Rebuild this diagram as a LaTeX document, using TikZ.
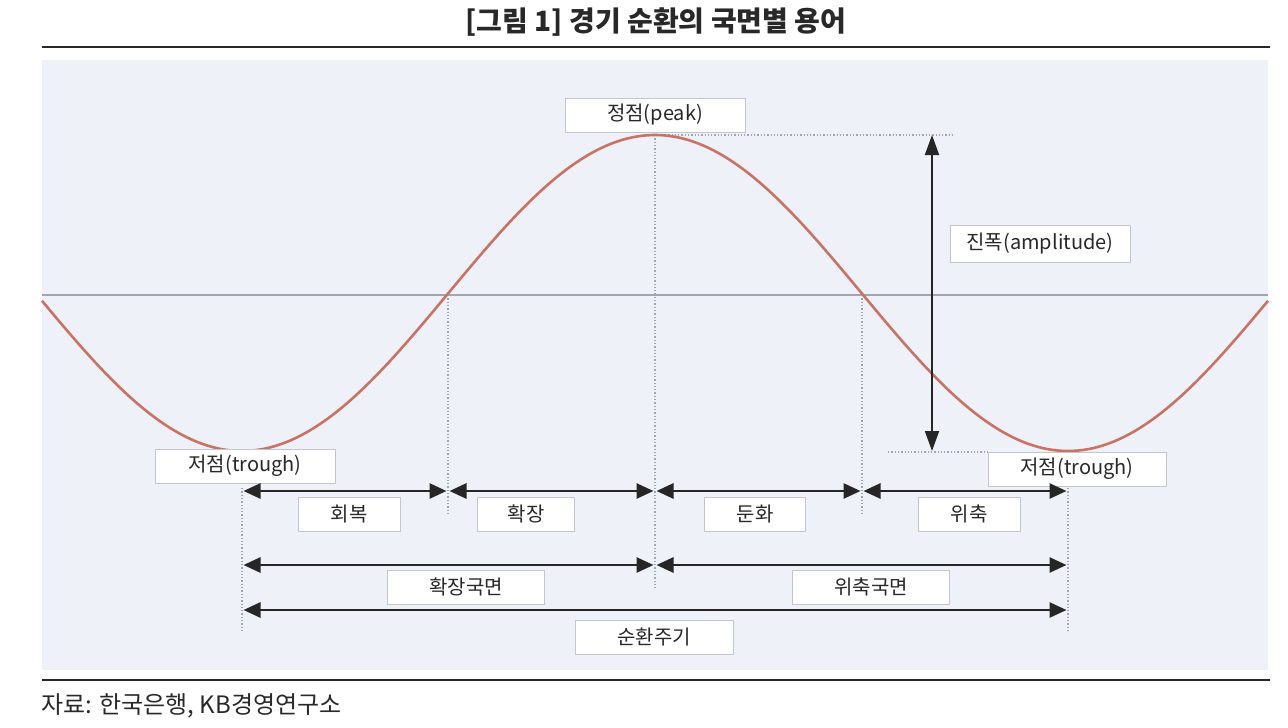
\documentclass[tikz,border=0pt]{standalone}
\usepackage{fontspec}
\setmainfont{Noto Sans CJK KR}
\usetikzlibrary{arrows.meta}
\usetikzlibrary{calc}
\definecolor{panel}{RGB}{238,241,248}
\definecolor{wavered}{RGB}{200,115,100}
\definecolor{boxgray}{RGB}{195,198,204}
\definecolor{axisgray}{RGB}{160,165,176}
\definecolor{ink}{RGB}{40,40,40}

\begin{document}
\begin{tikzpicture}[x=1pt, y=-1pt, >={Triangle[length=17pt,width=15pt]},
  box/.style={draw=boxgray, fill=white, line width=1pt, inner sep=0pt, minimum height=34pt, text=ink, font=\fontsize{20}{20}\selectfont},
  span/.style={<->, line width=2.8pt, draw=black!85, shorten <=1.5pt, shorten >=1.5pt},
  guide/.style={dotted, line width=1.3pt, draw=axisgray},
  wave/.style={line width=2.6pt, draw=wavered}]
\useasboundingbox (0,0) rectangle (1288,728);
\fill[panel] (42,60) rectangle (1268,670);
\draw[line width=2.5pt, ink] (42,47) -- (1270,47);
\draw[line width=2.5pt, ink] (42,680) -- (1270,680);
\node[text=ink, font=\bfseries\fontsize{28}{28}\selectfont] (title) at (656,22) {[그림 1] 경기 순환의 국면별 용어};
\node[anchor=west, text=ink, font=\fontsize{24}{24}\selectfont] (src) at (38,706) {자료: 한국은행, KB경영연구소};
% reference points of the cycle
\coordinate (tl) at (242,451);
\coordinate (z1) at (448,295);
\coordinate (pk) at (655,135);
\coordinate (z2) at (862,295);
\coordinate (tr) at (1068,451);
\coordinate (al) at (42,295);
\coordinate (ar) at (1268,295);
\draw[line width=2pt, axisgray] (al) -- (ar);
% guides
\coordinate (pkd) at (655,590);
\coordinate (pkr) at (955,135);
\coordinate (z1d) at (448,515);
\coordinate (z2d) at (862,515);
\coordinate (tlu) at (242,488);
\coordinate (tld) at (242,632);
\coordinate (tru) at (1068,488);
\coordinate (trd) at (1068,632);
\coordinate (trl) at (888,452);
\draw[guide] (pk) -- (pkd);
\draw[guide] (pk) -- (pkr);
\draw[guide] (z1) -- (z1d);
\draw[guide] (z2) -- (z2d);
\draw[guide] (tlu) -- (tld);
\draw[guide] (tru) -- (trd);
\draw[guide] (trl) -- (988,452);
% the wave
\draw[wave] plot[domain=42:1268, samples=240, smooth] (\x, {293+158*cos(0.435835*(\x-242))});
% amplitude
\coordinate (amt) at (932,135);
\coordinate (amb) at (932,451);
\draw[<->, line width=2pt, black!85, >={Triangle[length=20pt,width=14pt]}] (amt) -- (amb);
% labels
\node[box, minimum width=180pt] (peak) at (655,115) {정점(peak)};
\node[box, minimum width=180pt, minimum height=37pt] (amp) at (1040,244) {진폭(amplitude)};
\node[box, minimum width=180pt] (trL) at (245,466) {저점(trough)};
\node[box, minimum width=178pt] (trR) at (1077,469) {저점(trough)};
\node[box, minimum width=102pt] (rec) at (349,514) {회복};
\node[box, minimum width=97pt] (exp) at (526,514) {확장};
\node[box, minimum width=101pt] (slow) at (755,514) {둔화};
\node[box, minimum width=102pt] (con) at (969,514) {위축};
\node[box, minimum width=157pt] (expph) at (466,587) {확장국면};
\node[box, minimum width=157pt] (conph) at (871,587) {위축국면};
\node[box, minimum width=158pt] (cyc) at (654,637) {순환주기};
% phase spans
\coordinate (a0) at (242,491);
\coordinate (a1) at (448,491);
\coordinate (a2) at (655,491);
\coordinate (a3) at (862,491);
\coordinate (a4) at (1068,491);
\coordinate (b0) at (242,565);
\coordinate (b1) at (655,565);
\coordinate (b2) at (1068,565);
\coordinate (c0) at (242,610);
\coordinate (c1) at (1068,610);
\draw[span] (a0) -- (a1);
\draw[span] (a1) -- (a2);
\draw[span] (a2) -- (a3);
\draw[span] (a3) -- (a4);
\draw[span] (b0) -- (b1);
\draw[span] (b1) -- (b2);
\draw[span] (c0) -- (c1);
\end{tikzpicture}
\end{document}
